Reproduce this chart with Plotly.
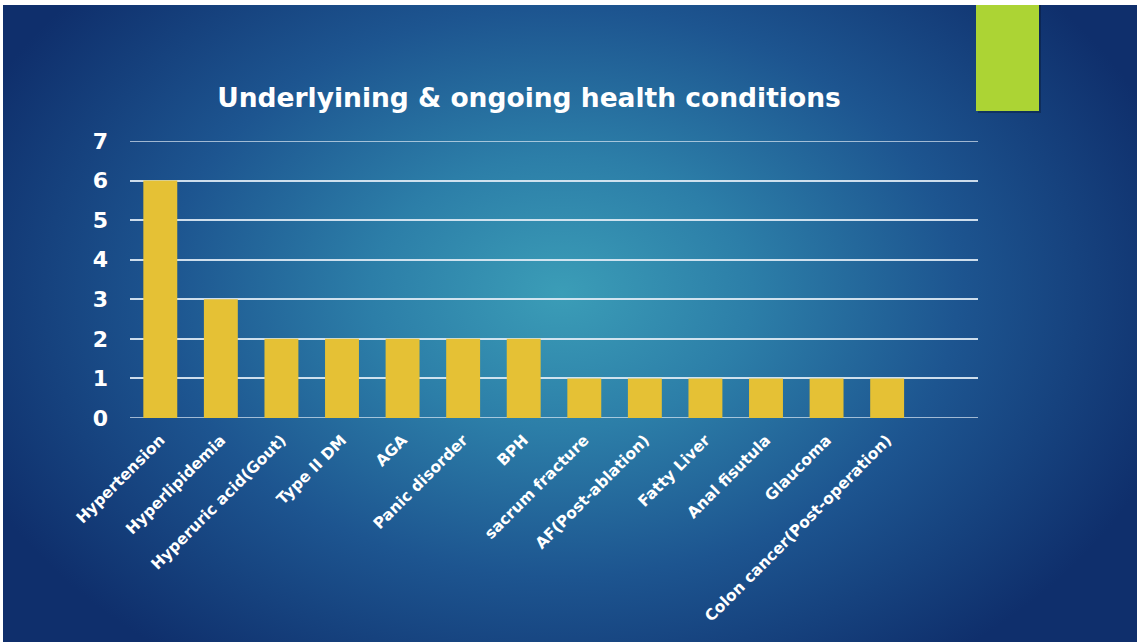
import base64
import plotly.graph_objects as go

# ---- data ----
categories = [
    "Hypertension", "Hyperlipidemia", "Hyperuric acid(Gout)", "Type II DM", "AGA",
    "Panic disorder", "BPH", "sacrum fracture", "AF(Post-ablation)", "Fatty Liver",
    "Anal fisutula", "Glaucoma", "Colon cancer(Post-operation)",
]
counts = [6, 3, 2, 2, 2, 2, 2, 1, 1, 1, 1, 1, 1]
y_ticks = [0, 1, 2, 3, 4, 5, 6, 7]
title_text = "Underlyining & ongoing health conditions"

W, H = 1137, 642
L, R, T, B = 130, 978, 141, 418

# background gradient as svg
svg = f"""<svg xmlns='http://www.w3.org/2000/svg' width='{W}' height='{H}' viewBox='0 0 {W} {H}' preserveAspectRatio='none'>
<defs><radialGradient id='g' gradientUnits='userSpaceOnUse' cx='560' cy='290' r='640' gradientTransform='translate(560 290) scale(1 0.72) translate(-560 -290)'>
<stop offset='0' stop-color='#3b9db7'/>
<stop offset='0.3' stop-color='#2c7ea8'/>
<stop offset='0.62' stop-color='#1d5590'/>
<stop offset='1' stop-color='#0f2f6c'/>
</radialGradient></defs>
<rect x='0' y='0' width='{W}' height='{H}' fill='url(#g)'/>
</svg>"""
src = "data:image/svg+xml;base64," + base64.b64encode(svg.encode()).decode()

def px_x(p):
    return (p - L) / (R - L)

def px_y(p):
    return (B - p) / (B - T)

GRID = "rgba(225,236,246,0.9)"

fig = go.Figure()
fig.add_trace(go.Bar(
    x=categories, y=counts, marker=dict(color="#e5c135", line=dict(width=0)),
    width=0.56,
))

fig.add_layout_image(dict(
    source=src, xref="paper", yref="paper",
    x=px_x(3), y=px_y(5), sizex=px_x(W) - px_x(3), sizey=px_y(5) - px_y(H),
    xanchor="left", yanchor="top", sizing="stretch", layer="below",
))

# green accent block with a soft shadow
fig.add_shape(type="rect", xref="paper", yref="paper",
              x0=px_x(978), x1=px_x(1041), y0=px_y(5), y1=px_y(113),
              fillcolor="rgba(0,0,0,0.25)", line=dict(width=0), layer="above")
fig.add_shape(type="rect", xref="paper", yref="paper",
              x0=px_x(976), x1=px_x(1039), y0=px_y(5), y1=px_y(111),
              fillcolor="#acd434", line=dict(width=0), layer="above")

fig.update_layout(
    width=W, height=H,
    margin=dict(l=L, r=W - R, t=T, b=H - B, pad=0),
    paper_bgcolor="white", plot_bgcolor="rgba(0,0,0,0)",
    showlegend=False,
    title=dict(text=title_text,
               x=529 / W, xanchor="center", y=1 - 98 / H, yanchor="middle",
               font=dict(family="DejaVu Sans", size=26.5, color="white", weight="bold")),
    font=dict(family="DejaVu Sans", color="white"),
)
fig.update_xaxes(
    range=[-0.5, 13.5], tickangle=-45, showgrid=False, zeroline=False,
    showline=False, ticks="", ticklabelstandoff=9,
    tickfont=dict(family="DejaVu Sans", size=15.5, color="white", weight="bold"),
)
fig.update_yaxes(
    range=[0, 7], tickvals=y_ticks, showgrid=True,
    gridcolor=GRID, gridwidth=1.5, zeroline=False,
    showline=False, ticks="", ticklabelstandoff=21,
    tickfont=dict(family="DejaVu Sans", size=22, color="white", weight="bold"),
)
# the grid lines at the two ends of the range
for yv in (y_ticks[0], y_ticks[-1]):
    fig.add_hline(y=yv, line=dict(color=GRID, width=1.5), layer="below")

fig.write_html("out.html")
